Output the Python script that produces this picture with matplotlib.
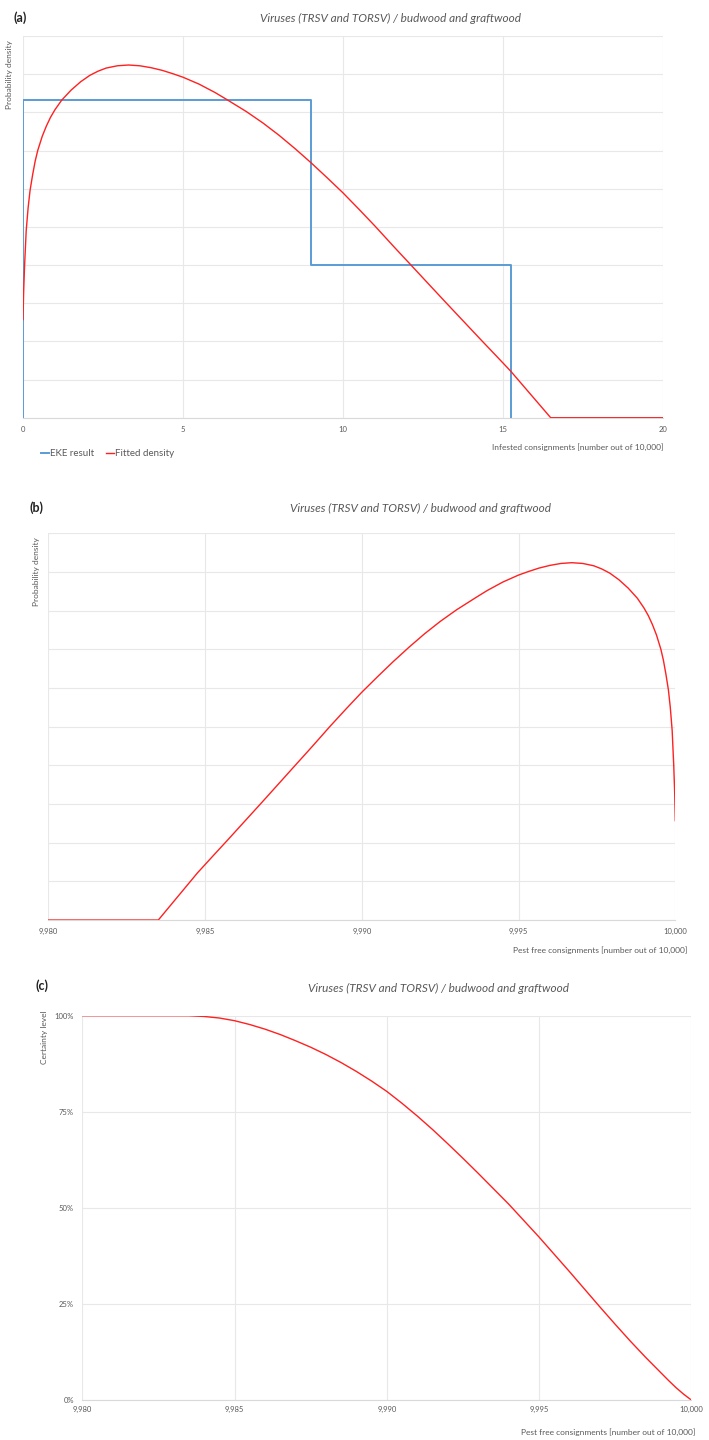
import matplotlib
matplotlib.use("Agg")
from matplotlib import pyplot as plt
from matplotlib.ticker import FuncFormatter, MultipleLocator

plt.rcParams['font.family'] = ['Lato', 'DejaVu Sans']

# verdier lest av figuren
infested = [0, 0.02, 0.05, 0.1, 0.16, 0.22, 0.3, 0.38, 0.46, 0.6, 0.73, 0.86, 1.0, 1.21,
            1.5, 1.8, 2.09, 2.35, 2.6, 2.95, 3.3, 3.65, 4.0, 4.35, 4.69, 5.0, 5.5, 6.0, 6.32,
            6.98, 7.5, 8.0, 8.5, 9.0, 9.5, 10.0, 10.5, 11.0, 11.6, 12.19, 12.7, 13.2, 13.75,
            14.3, 14.8, 15.24, 16.49, 20]
density = [2.57, 3.3, 4.0, 4.9, 5.5, 5.95, 6.36, 6.72, 7.0, 7.37, 7.64, 7.87, 8.07, 8.32,
           8.58, 8.8, 8.97, 9.08, 9.16, 9.22, 9.24, 9.22, 9.17, 9.1, 9.01, 8.92, 8.74, 8.52, 8.36,
           8.02, 7.72, 7.4, 7.05, 6.68, 6.29, 5.89, 5.46, 5.02, 4.47, 3.94, 3.48, 3.03, 2.54,
           2.05, 1.61, 1.22, 0.0, 0.0]
density = [d / 100 for d in density]

eke_edges = [0, 9, 15.25]
eke_heights = [0.0833, 0.040]

pest_free = [10000 - v for v in infested]

cert_x = [9980, 9983.5, 9984, 9984.5, 9985, 9985.5, 9986, 9986.5, 9987, 9987.5, 9988, 9988.5,
          9989, 9989.5, 9990, 9990.5, 9991, 9991.5, 9992, 9992.5, 9993, 9993.5, 9994,
          9994.5, 9995, 9995.5, 9996, 9996.5, 9997, 9997.5, 9998, 9998.5, 9999, 9999.25,
          9999.5, 9999.75, 10000]
cert_y = [1.0, 1.0, 0.998, 0.994, 0.987, 0.977, 0.965, 0.951, 0.935, 0.918, 0.899, 0.878,
          0.855, 0.830, 0.803, 0.772, 0.739, 0.704, 0.667, 0.629, 0.590, 0.550, 0.510,
          0.467, 0.424, 0.379, 0.334, 0.288, 0.242, 0.197, 0.153, 0.111, 0.071, 0.051,
          0.032, 0.015, 0.0]

title = 'Viruses (TRSV and TORSV) / budwood and graftwood'
grey = '#595959'
gridc = '#e8e8e8'
red = '#ff2020'
blue = '#5b9bd5'

W, H = 709, 1440
fig = plt.figure(figsize=(W / 100, H / 100), dpi=100)


def box(l, t, r, b):
    return [l / W, 1 - b / H, (r - l) / W, (b - t) / H]


def style(ax):
    for s in ['top', 'right', 'left']:
        ax.spines[s].set_visible(False)
    ax.spines['bottom'].set_color('#d9d9d9')
    ax.grid(True, color=gridc, linewidth=0.8)
    ax.set_axisbelow(True)
    ax.tick_params(length=0, labelsize=5.5, labelcolor=grey, pad=6)


# (a)
ax1 = fig.add_axes(box(23, 36, 663, 417.7))
style(ax1)
step_x = [eke_edges[0], eke_edges[0], eke_edges[1], eke_edges[1], eke_edges[2], eke_edges[2]]
step_y = [0, eke_heights[0], eke_heights[0], eke_heights[1], eke_heights[1], 0]
ax1.plot(step_x, step_y, color=blue, linewidth=1.4, label='EKE result')
ax1.plot(infested, density, color=red, linewidth=1.0, label='Fitted density')
ax1.set_xlim(0, 20)
ax1.set_ylim(0, 0.1)
ax1.xaxis.set_major_locator(MultipleLocator(5))
ax1.yaxis.set_major_locator(MultipleLocator(0.01))
ax1.set_yticklabels([])
ax1.legend(loc='upper left', bbox_to_anchor=(0.015, -0.06), ncol=2, frameon=False,
           handlelength=0.8, handletextpad=0.1, columnspacing=1.2, fontsize=7, labelcolor=grey)

# (b)
ax2 = fig.add_axes(box(48.3, 533.3, 675.3, 920))
style(ax2)
ax2.plot(pest_free, density, color=red, linewidth=1.0)
ax2.set_xlim(9980, 10000)
ax2.set_ylim(0, 0.1)
ax2.xaxis.set_major_locator(MultipleLocator(5))
ax2.yaxis.set_major_locator(MultipleLocator(0.01))
ax2.set_yticklabels([])
ax2.xaxis.set_major_formatter(FuncFormatter(lambda v, p: f'{v:,.0f}'))

# (c)
ax3 = fig.add_axes(box(82.3, 1015.7, 691.3, 1400))
style(ax3)
ax3.plot(cert_x, cert_y, color=red, linewidth=1.0)
ax3.set_xlim(9980, 10000)
ax3.set_ylim(0, 1)
ax3.xaxis.set_major_locator(MultipleLocator(5))
ax3.yaxis.set_major_locator(MultipleLocator(0.25))
ax3.xaxis.set_major_formatter(FuncFormatter(lambda v, p: f'{v:,.0f}'))
ax3.yaxis.set_major_formatter(FuncFormatter(lambda v, p: f'{v:.0%}'))
ax3.tick_params(axis='x', pad=4)

# tekster
def ftext(x, y, s, **kw):
    fig.text(x / W, 1 - y / H, s, **kw)


ftext(13, 18, '(a)', fontsize=9, fontweight='bold', va='center', color='#222222')
ftext(391, 18, title, fontsize=8.5, style='italic', color=grey, ha='center', va='center')
ftext(10, 40, 'Probability density', fontsize=6, rotation=90, color=grey, ha='center', va='top')
ftext(663, 447, 'Infested consignments [number out of 10,000]', fontsize=6, color=grey, ha='right', va='center')

ftext(30, 508, '(b)', fontsize=9, fontweight='bold', va='center', color='#222222')
ftext(421, 508, title, fontsize=8.5, style='italic', color=grey, ha='center', va='center')
ftext(36, 537, 'Probability density', fontsize=6, rotation=90, color=grey, ha='center', va='top')
ftext(687, 950, 'Pest free consignments [number out of 10,000]', fontsize=6, color=grey, ha='right', va='center')

ftext(35, 986, '(c)', fontsize=9, fontweight='bold', va='center', color='#222222')
ftext(439, 988, title, fontsize=8.5, style='italic', color=grey, ha='center', va='center')
ftext(45, 1010, 'Certainty level', fontsize=6, rotation=90, color=grey, ha='center', va='top')
ftext(695, 1432, 'Pest free consignments [number out of 10,000]', fontsize=6, color=grey, ha='right', va='center')

fig.savefig('out.png', dpi=100)
